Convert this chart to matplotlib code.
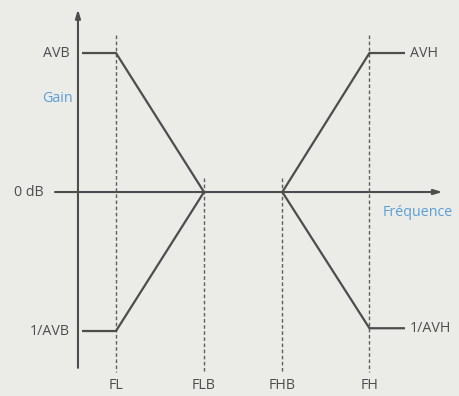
import matplotlib
matplotlib.use("Agg")
import matplotlib.pyplot as plt

# Bode-like gain sketch: positions on an arbitrary frequency axis, gain in dB
freq_names = ["FL", "FLB", "FHB", "FH"]
freq_pos = [1.0, 2.0, 2.89, 3.88]

gain_avb = 20.0      # AVB level
gain_inv_avb = -20.0  # 1/AVB level
gain_avh = 20.0      # AVH level
gain_inv_avh = -19.6  # 1/AVH level

# curve start / end on the frequency axis
x_start = 0.614
x_end = 4.284

low_up_x = [x_start, freq_pos[0], freq_pos[1]]
low_up_y = [gain_avb, gain_avb, 0.0]
low_down_x = [x_start, freq_pos[0], freq_pos[1]]
low_down_y = [gain_inv_avb, gain_inv_avb, 0.0]
high_up_x = [freq_pos[2], freq_pos[3], x_end]
high_up_y = [0.0, gain_avh, gain_avh]
high_down_x = [freq_pos[2], freq_pos[3], x_end]
high_down_y = [0.0, gain_inv_avh, gain_inv_avh]

bg = "#ebebe8"
ink = "#4d4d4d"
blue = "#5a9fd4"
font = "Open Sans"
fs = 10.3

fig = plt.figure(figsize=(4.6, 3.96), dpi=100, facecolor=bg)
ax = fig.add_axes([0, 0, 1, 1])
ax.set_facecolor(bg)
ax.set_xlim(-0.318, 4.909)
ax.set_ylim(-29.35, 27.63)
ax.axis("off")

# axes with arrows
y_axis_x = 0.568
ax.annotate("", xy=(y_axis_x, 26.3), xytext=(y_axis_x, -25.3),
            arrowprops=dict(arrowstyle="-|>,head_length=0.5,head_width=0.15",
                            color=ink, lw=1.5, shrinkA=0, shrinkB=0))
ax.annotate("", xy=(4.71, 0), xytext=(0.307, 0),
            arrowprops=dict(arrowstyle="-|>,head_length=0.5,head_width=0.15",
                            color=ink, lw=1.5, shrinkA=0, shrinkB=0))

# dashed frequency markers
for name, fx in zip(freq_names, freq_pos):
    top = 22.6 if name in ("FL", "FH") else 2.0
    ax.plot([fx, fx], [top, -25.9], ls=(0, (2.6, 1.8)), color="#5e5e5e", lw=1.0)
    ax.text(fx, -27.9, name, ha="center", va="center", fontsize=fs,
            color=ink, family=font)

# gain curves
for xs, ys in [(low_up_x, low_up_y), (low_down_x, low_down_y),
               (high_up_x, high_up_y), (high_down_x, high_down_y)]:
    ax.plot(xs, ys, color=ink, lw=1.6, solid_capstyle="butt")

# level labels
ax.text(0.47, gain_avb, "AVB", ha="right", va="center", fontsize=fs,
        color=ink, family=font)
ax.text(0.47, gain_inv_avb, "1/AVB", ha="right", va="center", fontsize=fs,
        color=ink, family=font)
ax.text(0.18, 0, "0 dB", ha="right", va="center", fontsize=fs,
        color=ink, family=font)
ax.text(4.34, gain_avh, "AVH", ha="left", va="center", fontsize=fs,
        color=ink, family=font)
ax.text(4.34, gain_inv_avh, "1/AVH", ha="left", va="center", fontsize=fs,
        color=ink, family=font)

ax.text(0.33, 13.5, "Gain", ha="center", va="center", fontsize=fs,
        color=blue, family=font)
ax.text(4.03, -2.9, "Fréquence", ha="left", va="center", fontsize=fs,
        color=blue, family=font)

fig.savefig("out.png", dpi=100, facecolor=bg)
